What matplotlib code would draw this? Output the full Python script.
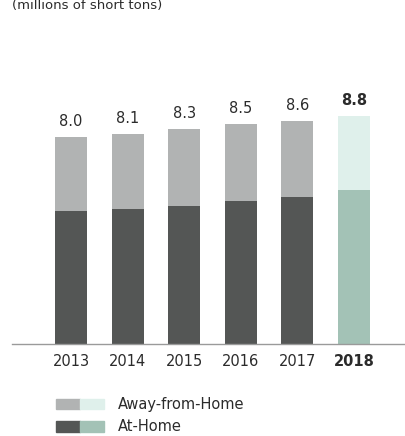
import matplotlib
matplotlib.use("Agg")
import matplotlib.pyplot as plt
from matplotlib.legend_handler import HandlerTuple
from matplotlib.patches import Patch

# Data (millions of short tons)
years = ["2013", "2014", "2015", "2016", "2017", "2018"]
totals = [8.0, 8.1, 8.3, 8.5, 8.6, 8.8]
at_home = [5.14, 5.21, 5.32, 5.51, 5.68, 5.95]
away_from_home = [t - a for t, a in zip(totals, at_home)]
total_labels = ["8.0", "8.1", "8.3", "8.5", "8.6", "8.8"]

dark_gray = "#545655"
light_gray = "#b1b3b3"
green = "#a3c2b6"
light_green = "#dff0eb"
text_col = "#2b2b2b"

plt.rcParams["font.family"] = ["DejaVu Sans"]

fig = plt.figure(figsize=(4.05, 4.36), dpi=100)
ax = fig.add_axes([12 / 405, 92 / 436, 393 / 405, 284 / 436])

x = list(range(len(years)))
bottom_cols = [dark_gray] * 5 + [green]
top_cols = [light_gray] * 5 + [light_green]
ax.bar(x, at_home, width=0.565, color=bottom_cols, linewidth=0)
ax.bar(x, away_from_home, bottom=at_home, width=0.565, color=top_cols, linewidth=0)

for i, (t, lab) in enumerate(zip(totals, total_labels)):
    ax.text(i, t + 0.3, lab, ha="center", va="bottom", fontsize=10.5,
            color=text_col, fontweight="bold" if i == 5 else "normal")

ax.set_xlim(-1.042, 5.90)
ax.set_ylim(0, 10.965)
ax.set_xticks(x)
ax.set_xticklabels(years, fontsize=10.5, color=text_col)
ax.get_xticklabels()[-1].set_fontweight("bold")
ax.tick_params(axis="x", length=0, pad=7.5)
ax.set_yticks([])
for side in ["top", "right", "left"]:
    ax.spines[side].set_visible(False)
ax.spines["bottom"].set_color("#9a9a9a")
ax.spines["bottom"].set_linewidth(1.0)

# title sits at the very top edge, as in the source
fig.text(12 / 405, 1 - 9.5 / 436, "(millions of short tons)", fontsize=9.5,
         color=text_col, va="baseline", ha="left")

handles = [(Patch(color=light_gray), Patch(color=light_green)),
           (Patch(color=dark_gray), Patch(color=green))]
fig.legend(handles, ["Away-from-Home", "At-Home"],
           handler_map={tuple: HandlerTuple(ndivide=None, pad=0)},
           loc="upper left", bbox_to_anchor=(55.7 / 405, 1 - 397 / 436),
           frameon=False, fontsize=10.5, handlelength=3.3, handleheight=0.75,
           handletextpad=0.95, labelspacing=0.5, borderpad=0, borderaxespad=0,
           labelcolor=text_col)

fig.savefig("out.png", dpi=100)
